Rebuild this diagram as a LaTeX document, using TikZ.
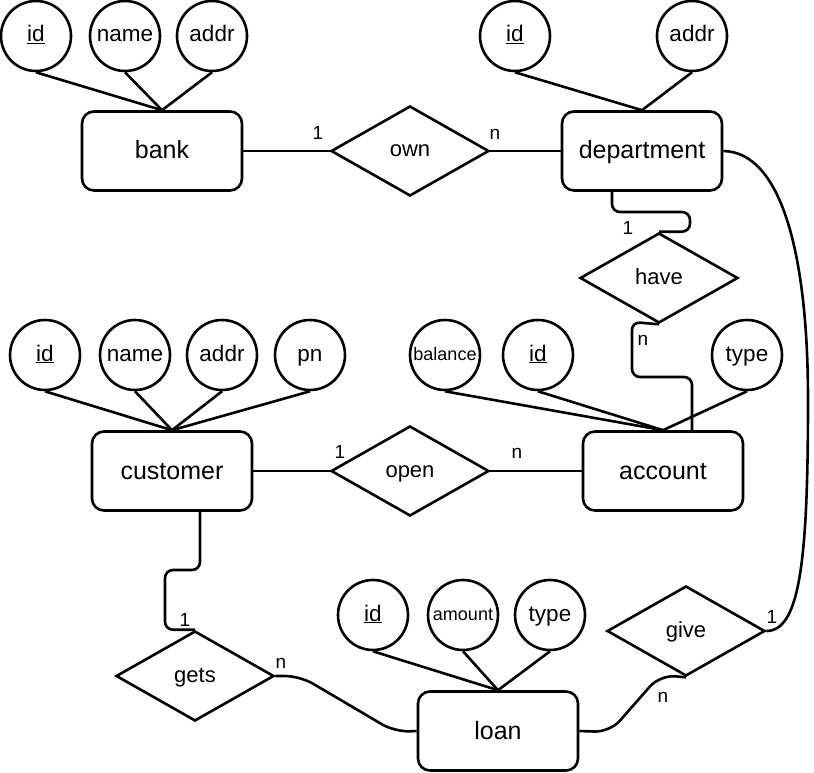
\documentclass[tikz,border=0pt]{standalone}
\usepackage{fontspec}
\setmainfont{Liberation Sans}
\usetikzlibrary{shapes.geometric}

\begin{document}
\begin{tikzpicture}[x=1pt,y=-1pt]
 	\tikzstyle{entity}=[rectangle, rounded corners=12pt, draw=black, line width=2.6pt, minimum width=160pt, minimum height=79pt, inner sep=0pt, text height=16pt, text depth=0pt, font=\fontsize{25}{29}\selectfont]
 	\tikzstyle{attr}=[circle, draw=black, line width=2.6pt, minimum size=70pt, inner sep=0pt, text height=12pt, text depth=0pt, font=\fontsize{22.5}{26}\selectfont]
 	\tikzstyle{rel}=[diamond, draw=black, line width=2.6pt, minimum width=158pt, minimum height=90pt, inner sep=0pt, text height=12pt, text depth=0pt, font=\fontsize{22}{26}\selectfont]
 	\tikzstyle{connect}=[line width=2.6pt]
 	\tikzstyle{card}=[inner sep=0pt, font=\fontsize{19}{22}\selectfont]
 	\useasboundingbox (0,0) rectangle (814,773);
 	% entities
 	\node[entity] (bank) at (162,151) {bank};
 	\node[entity] (dept) at (642,151) {department};
 	\node[entity] (cust) at (172,471) {customer};
 	\node[entity] (acct) at (663,471) {account};
 	\node[entity] (loan) at (498,731) {loan};
 	% relationships
 	\node[rel] (own) at (410,151) {own};
 	\node[rel] (have) at (659,278) {have};
 	\node[rel] (open) at (410,471) {open};
 	\node[rel] (gets) at (195,676) {gets};
 	\node[rel] (give) at (686,631) {give};
 	% attributes
 	\node[attr] (bankid) at (36,36) {\underline{id}};
 	\node[attr] (bankname) at (125,36) {name};
 	\node[attr] (bankaddr) at (212,36) {addr};
 	\node[attr] (deptid) at (515,36) {\underline{id}};
 	\node[attr] (deptaddr) at (692,36) {addr};
 	\node[attr] (custid) at (45,355) {\underline{id}};
 	\node[attr] (custname) at (135,355) {name};
 	\node[attr] (custaddr) at (222,355) {addr};
 	\node[attr] (custpn) at (310,355) {pn};
 	\node[attr, font=\fontsize{18}{21}\selectfont, text height=10pt] (acctbal) at (445,355) {balance};
 	\node[attr] (acctid) at (538,355) {\underline{id}};
 	\node[attr] (accttype) at (747,355) {type};
 	\node[attr] (loanid) at (373,615) {\underline{id}};
 	\node[attr, font=\fontsize{18}{21}\selectfont, text height=10pt] (loanamt) at (463,615) {amount};
 	\node[attr] (loantype) at (550,615) {type};
 	\path (bankid.south) edge [connect] (bank.north)
 	(bankname.south) edge [connect] (bank.north)
 	(bankaddr.south) edge [connect] (bank.north)
 	(deptid.south) edge [connect] (dept.north)
 	(deptaddr.south) edge [connect] (dept.north)
 	(custid.south) edge [connect] (cust.north)
 	(custname.south) edge [connect] (cust.north)
 	(custaddr.south) edge [connect] (cust.north)
 	(custpn.south) edge [connect] (cust.north)
 	(acctbal.south) edge [connect] (acct.north)
 	(acctid.south) edge [connect] (acct.north)
 	(accttype.south) edge [connect] (acct.north)
 	(loanid.south) edge [connect] (loan.north)
 	(loanamt.south) edge [connect] (loan.north)
 	(loantype.south) edge [connect] (loan.north)
 	(bank.east) edge [connect] (own.west)
 	(own.east) edge [connect] (dept.west)
 	(cust.east) edge [connect] (open.west)
 	(open.east) edge [connect] (acct.west);
 	% bent connectors
 	\draw[connect, rounded corners=8pt] ([xshift=-30pt]dept.south) |- (690,212) |- (have.north);
 	\draw[connect, rounded corners=8pt] (have.south) -- (632,322) |- (692,377) -- ([xshift=29pt]acct.north);
 	\draw[connect, rounded corners=8pt] ([xshift=28pt]cust.south) |- (165,570) |- (gets.north);
 	\draw[connect, rounded corners=15pt] (gets.east) -- (300,676) -- (395,732) -- (loan.west);
 	\draw[connect, rounded corners=15pt] (give.south) -- (660,675) -- (610,732) -- (loan.east);
 	\draw[connect] (dept.east) .. controls (780,152) and (808,250) .. (808,400)
 		.. controls (808,560) and (800,631) .. (give.east);
 	% cardinalities
 	\node[card] (c1) at (318,133) {1};
 	\node[card] (c2) at (495,134) {n};
 	\node[card] (c3) at (628,228) {1};
 	\node[card] (c4) at (643,340) {n};
 	\node[card] (c5) at (340,452) {1};
 	\node[card] (c6) at (517,453) {n};
 	\node[card] (c7) at (185,620) {1};
 	\node[card] (c8) at (281,663) {n};
 	\node[card] (c9) at (772,617) {1};
 	\node[card] (c10) at (663,697) {n};
\end{tikzpicture}
\end{document}
